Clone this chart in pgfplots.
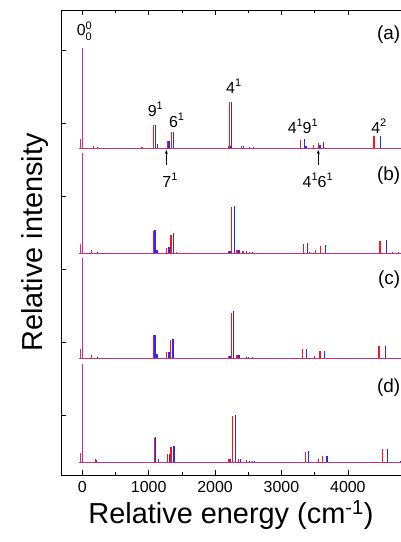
\documentclass[border=0pt]{standalone}
\usepackage{fontspec}
\setmainfont{Liberation Sans}
\usepackage{pgfplots}
\usepackage{pgfplotstable}
\pgfplotsset{compat=1.18}
\usetikzlibrary{calc,arrows.meta}
\definecolor{stickred}{RGB}{255,20,20}
\definecolor{stickblue}{RGB}{40,40,255}
\definecolor{basemag}{RGB}{200,50,125}

% bands where both spectra coincide (origin)
\pgfplotstableread{
E h
-25 0.09
0 1.00
}\both
% stick spectra, heights relative to the origin band
\pgfplotstableread{
E h
175 0.02
900 0.01
1075 0.23
1277 0.07
1347 0.16
2200 0.02
2217 0.46
2395 0.02
2520 0.01
3293 0.08
3488 0.03
3554 0.05
4393 0.12
}\redA
\pgfplotstableread{
E h
235 0.01
1100 0.23
1130 0.04
1307 0.07
1377 0.16
2230 0.02
2242 0.46
2430 0.02
2580 0.01
3348 0.09
3370 0.02
3580 0.03
3630 0.06
4494 0.12
}\blueA
\pgfplotstableread{
E h
140 0.03
1070 0.22
1266 0.05
1337 0.18
1420 0.01
2200 0.02
2252 0.46
2330 0.03
2420 0.02
2520 0.01
3333 0.09
3508 0.03
3590 0.07
4484 0.12
4670 0.01
}\redB
\pgfplotstableread{
E h
235 0.01
1096 0.23
1115 0.03
1135 0.03
1307 0.06
1372 0.20
2225 0.02
2287 0.47
2360 0.03
2470 0.02
2570 0.01
3388 0.10
3420 0.01
3665 0.08
4580 0.13
4760 0.01
}\blueB
\pgfplotstableread{
E h
140 0.03
1070 0.23
1266 0.06
1332 0.18
2200 0.02
2247 0.45
2330 0.03
2500 0.01
3318 0.09
3498 0.02
3580 0.07
4469 0.12
}\redC
\pgfplotstableread{
E h
230 0.01
1096 0.23
1115 0.04
1135 0.04
1307 0.06
1367 0.19
2225 0.02
2277 0.47
2360 0.03
2470 0.01
2570 0.01
3373 0.09
3645 0.07
4560 0.12
}\blueC
\pgfplotstableread{
E h
200 0.03
1088 0.24
1277 0.08
1337 0.15
2210 0.03
2267 0.46
2350 0.03
2470 0.02
2560 0.01
3358 0.10
3553 0.03
3620 0.06
4519 0.13
}\redD
\pgfplotstableread{
E h
215 0.02
1104 0.25
1150 0.03
1317 0.08
1382 0.16
2230 0.03
2302 0.47
2385 0.03
2520 0.01
2600 0.01
3403 0.11
3685 0.06
4600 0.13
4790 0.01
}\blueD

\newcommand\sps[1]{\raisebox{0.8ex}{\fontsize{11}{11}\selectfont #1}}
\newcommand\sbs[1]{\raisebox{-0.55ex}{\fontsize{11}{11}\selectfont #1}}

% sticks drawn as downward error bars from offset+h to the offset baseline
\pgfplotsset{
  stick/.style={draw=none, mark=none,
    error bars/.cd, y dir=minus, y explicit, error mark=none,
    error bar style={line width=1.1pt, draw=#1},
    /pgfplots/.cd},
  base/.style={basemag, line width=0.9pt},
}

\begin{document}
\begin{tikzpicture}
\begin{axis}[
  name=ax,
  scale only axis,
  width=340bp, height=465bp,
  xmin=-320, xmax=4800,
  ymin=-0.13, ymax=4.52,
  axis x line*=box,
  axis y line*=left,
  axis line style={line width=0.8pt},
  xtick={0,1000,2000,3000,4000},
  minor x tick num=1,
  xtick pos=both,
  ytick={0.47,1.2,1.93,2.66,3.39,4.12},
  yticklabels={},
  ytick pos=left,
  tick align=inside,
  major tick length=5bp,
  minor tick length=3bp,
  tick style={black, line width=0.6pt},
  /pgf/number format/assume math mode=true,
  /pgf/number format/1000 sep={},
  ticklabel style={font=\fontsize{16}{16}\selectfont},
  xticklabel shift=3bp,
  xlabel={Relative energy (cm\textsuperscript{-1})},
  ylabel={Relative intensity},
  xlabel style={font=\fontsize{29}{29}\selectfont, yshift=-1bp},
  ylabel style={font=\fontsize{29}{29}\selectfont, yshift=2bp},
  clip=false,
]
% (a)
\addplot[stick=stickblue] table[x=E, y expr=\thisrow{h}+3.14, y error=h] {\blueA};
\addplot[stick=stickred] table[x=E, y expr=\thisrow{h}+3.14, y error=h] {\redA};
\addplot[stick=basemag] table[x=E, y expr=\thisrow{h}+3.14, y error=h] {\both};
\addplot[base] coordinates {(-50,3.14) (4800,3.14)};
% (b)
\addplot[stick=stickblue] table[x=E, y expr=\thisrow{h}+2.09, y error=h] {\blueB};
\addplot[stick=stickred] table[x=E, y expr=\thisrow{h}+2.09, y error=h] {\redB};
\addplot[stick=basemag] table[x=E, y expr=\thisrow{h}+2.09, y error=h] {\both};
\addplot[base] coordinates {(-50,2.09) (4800,2.09)};
% (c)
\addplot[stick=stickblue] table[x=E, y expr=\thisrow{h}+1.04, y error=h] {\blueC};
\addplot[stick=stickred] table[x=E, y expr=\thisrow{h}+1.04, y error=h] {\redC};
\addplot[stick=basemag] table[x=E, y expr=\thisrow{h}+1.04, y error=h] {\both};
\addplot[base] coordinates {(-50,1.04) (4800,1.04)};
% (d)
\addplot[stick=stickblue] table[x=E, y expr=\thisrow{h}, y error=h] {\blueD};
\addplot[stick=stickred] table[x=E, y expr=\thisrow{h}, y error=h] {\redD};
\addplot[stick=basemag] table[x=E, y expr=0.98*\thisrow{h}, y error expr=0.98*\thisrow{h}] {\both};
\addplot[base] coordinates {(-50,0) (4800,0)};

% band labels
\begin{scope}[every node/.style={font=\fontsize{16}{16}\selectfont, inner sep=0pt}]
\node at (axis cs:30,4.31) {0\rlap{\sps{0}}\sbs{0}};
\node at (axis cs:1100,3.53) {9\sps{1}};
\node at (axis cs:1420,3.42) {6\sps{1}};
\node at (axis cs:1320,2.82) {7\sps{1}};
\node at (axis cs:2280,3.76) {4\sps{1}};
\node at (axis cs:3320,3.36) {4\sps{1}9\sps{1}};
\node at (axis cs:3545,2.82) {4\sps{1}6\sps{1}};
\node at (axis cs:4465,3.36) {4\sps{2}};
\end{scope}
\draw[-{Stealth[length=4bp,width=3bp]}, line width=0.6pt] (axis cs:1266,2.97) -- (axis cs:1266,3.12);
\draw[-{Stealth[length=4bp,width=3bp]}, line width=0.6pt] (axis cs:3554,2.97) -- (axis cs:3554,3.12);

% panel labels
\begin{scope}[every node/.style={font=\fontsize{19}{19}\selectfont, anchor=east, inner sep=0pt}]
\node at (axis cs:4790,4.27) {(a)};
\node at (axis cs:4790,2.86) {(b)};
\node at (axis cs:4790,1.82) {(c)};
\node at (axis cs:4790,0.74) {(d)};
\end{scope}
\end{axis}
\pgfresetboundingbox
\path[use as bounding box] ($(ax.south west)+(-61bp,-67bp)$) rectangle ($(ax.north east)+(0bp,10bp)$);
\end{tikzpicture}
\end{document}
